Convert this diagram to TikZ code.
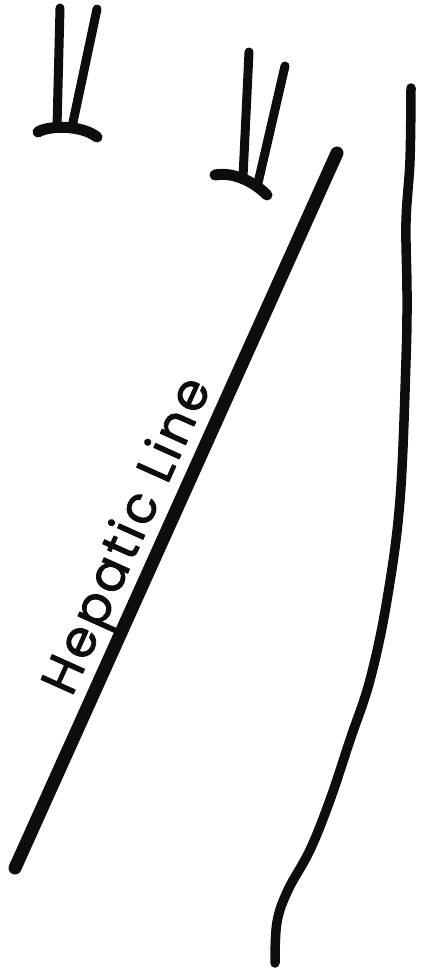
\documentclass[tikz,border=0pt]{standalone}
\usepackage{fontspec}
\newfontfamily\handfont{Poppins}[FakeBold=1.6, LetterSpace=6]
\usetikzlibrary{calc}
\definecolor{ink}{HTML}{0D0D0D}
\tikzset{
  every picture/.style={x=0.02cm, y=-0.02cm, line cap=round, line join=round},
  pen/.style={draw=ink, line width=#1},
  pen/.default=0.18cm,
  linetext/.style={font=\handfont\fontsize{29}{29}\selectfont, text=ink, inner sep=0pt},
}

\begin{document}
\begin{tikzpicture}
  \useasboundingbox (0,0) rectangle (422,969);
  % finger marks
  \draw[pen] (60,8) -- (57,127);
  \draw[pen] (97,9) -- (72,127);
  \draw[pen=0.22cm] (38,132) .. controls (47,126) and (80,124) .. (97,137);
  \draw[pen] (249,52) -- (243,177);
  \draw[pen] (285,66) -- (258,183);
  \draw[pen=0.22cm] (215,175) .. controls (232,172) and (252,180) .. (267,195);
  % hepatic line
  \coordinate (hepbot) at (15,868);
  \coordinate (heptop) at (337,153);
  \draw[pen=0.26cm] (hepbot) -- (heptop)
    node[linetext, pos=0.445, sloped, yshift=0.62cm] (hepname) {Hepatic Line};
  % outer edge of the palm
  \draw[pen=0.19cm] plot[smooth, tension=0.6] coordinates {(411,88) (410,160) (406,222)
    (407,293) (406,360) (400,500) (387,600) (370,680) (350,740) (330,800)
    (310,850) (288,890) (277,922) (275,963)};
\end{tikzpicture}
\end{document}
